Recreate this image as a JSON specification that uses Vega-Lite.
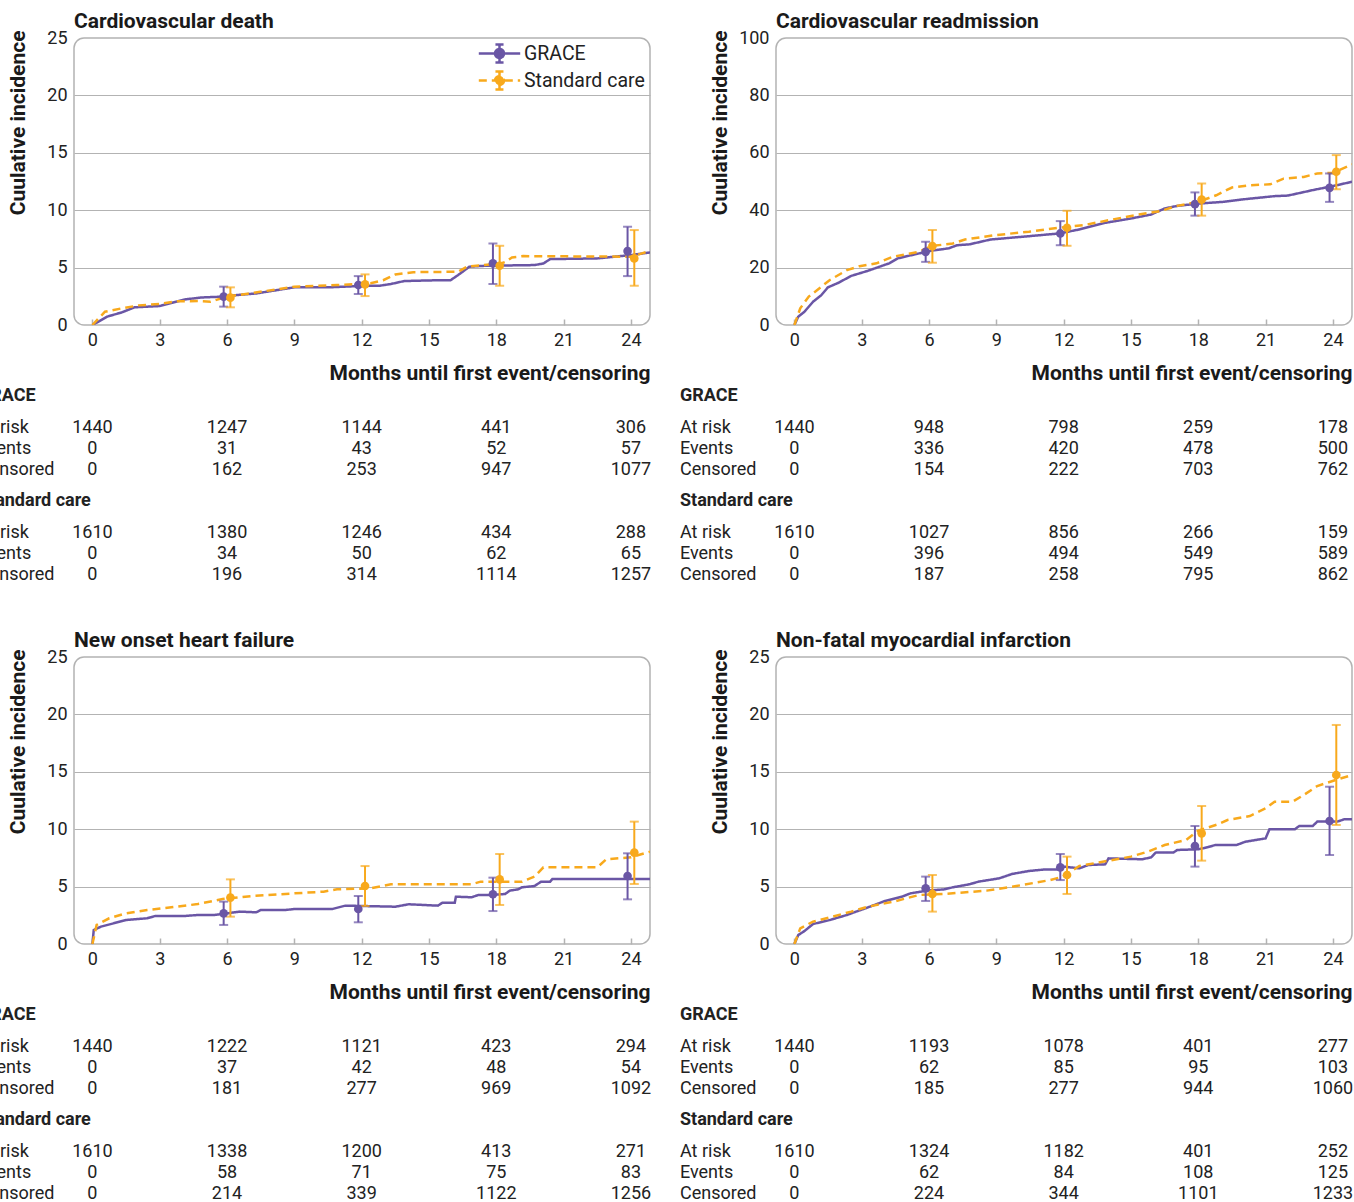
{
"$schema": "https://vega.github.io/schema/vega-lite/v6.json",
"padding": {"left": -23, "top": 10, "right": 0, "bottom": 0},
"background": "white",
"datasets": {
"curves": [
{"p":1,"g":"GRACE","m":0,"v":0},{"p":1,"g":"GRACE","m":0.66,"v":0.73},{"p":1,"g":"GRACE","m":1.31,"v":1.1},{"p":1,"g":"GRACE","m":1.88,"v":1.54},{"p":1,"g":"GRACE","m":3.0,"v":1.65},{"p":1,"g":"GRACE","m":4.13,"v":2.23},{"p":1,"g":"GRACE","m":4.88,"v":2.4},{"p":1,"g":"GRACE","m":5.8,"v":2.47},{"p":1,"g":"GRACE","m":6.4,"v":2.6},{"p":1,"g":"GRACE","m":7.3,"v":2.75},{"p":1,"g":"GRACE","m":8.26,"v":3.05},{"p":1,"g":"GRACE","m":9.0,"v":3.28},{"p":1,"g":"GRACE","m":10.5,"v":3.28},{"p":1,"g":"GRACE","m":12.0,"v":3.4},{"p":1,"g":"GRACE","m":12.8,"v":3.42},{"p":1,"g":"GRACE","m":13.3,"v":3.57},{"p":1,"g":"GRACE","m":13.9,"v":3.83},{"p":1,"g":"GRACE","m":15.4,"v":3.9},{"p":1,"g":"GRACE","m":15.96,"v":3.9},{"p":1,"g":"GRACE","m":16.3,"v":4.35},{"p":1,"g":"GRACE","m":16.8,"v":5.08},{"p":1,"g":"GRACE","m":17.5,"v":5.16},{"p":1,"g":"GRACE","m":19.7,"v":5.22},{"p":1,"g":"GRACE","m":20.1,"v":5.36},{"p":1,"g":"GRACE","m":20.4,"v":5.74},{"p":1,"g":"GRACE","m":22.5,"v":5.8},{"p":1,"g":"GRACE","m":24.0,"v":6.09},{"p":1,"g":"GRACE","m":24.85,"v":6.32},
{"p":1,"g":"Standard care","m":0,"v":0},{"p":1,"g":"Standard care","m":0.56,"v":1.16},{"p":1,"g":"Standard care","m":1.31,"v":1.45},{"p":1,"g":"Standard care","m":2.07,"v":1.71},{"p":1,"g":"Standard care","m":3.0,"v":1.83},{"p":1,"g":"Standard care","m":3.76,"v":2.06},{"p":1,"g":"Standard care","m":4.7,"v":2.09},{"p":1,"g":"Standard care","m":5.26,"v":2.03},{"p":1,"g":"Standard care","m":6.0,"v":2.47},{"p":1,"g":"Standard care","m":7.1,"v":2.78},{"p":1,"g":"Standard care","m":9.0,"v":3.33},{"p":1,"g":"Standard care","m":10.9,"v":3.48},{"p":1,"g":"Standard care","m":12.4,"v":3.63},{"p":1,"g":"Standard care","m":12.96,"v":3.9},{"p":1,"g":"Standard care","m":13.5,"v":4.4},{"p":1,"g":"Standard care","m":14.3,"v":4.6},{"p":1,"g":"Standard care","m":16.3,"v":4.64},{"p":1,"g":"Standard care","m":16.7,"v":5.08},{"p":1,"g":"Standard care","m":18.2,"v":5.36},{"p":1,"g":"Standard care","m":18.4,"v":5.5},{"p":1,"g":"Standard care","m":18.7,"v":5.89},{"p":1,"g":"Standard care","m":19.2,"v":6.0},{"p":1,"g":"Standard care","m":24.0,"v":5.95},{"p":1,"g":"Standard care","m":24.85,"v":6.45},
{"p":2,"g":"GRACE","m":0,"v":0},{"p":2,"g":"GRACE","m":0.17,"v":2.9},{"p":2,"g":"GRACE","m":0.45,"v":4.64},{"p":2,"g":"GRACE","m":0.83,"v":8.1},{"p":2,"g":"GRACE","m":1.2,"v":10.4},{"p":2,"g":"GRACE","m":1.49,"v":13.1},{"p":2,"g":"GRACE","m":1.96,"v":14.7},{"p":2,"g":"GRACE","m":2.53,"v":17.1},{"p":2,"g":"GRACE","m":3.28,"v":18.9},{"p":2,"g":"GRACE","m":4.23,"v":21.5},{"p":2,"g":"GRACE","m":4.6,"v":23.2},{"p":2,"g":"GRACE","m":5.36,"v":24.6},{"p":2,"g":"GRACE","m":6.1,"v":25.9},{"p":2,"g":"GRACE","m":6.87,"v":26.7},{"p":2,"g":"GRACE","m":7.25,"v":27.8},{"p":2,"g":"GRACE","m":7.8,"v":28.1},{"p":2,"g":"GRACE","m":8.75,"v":29.8},{"p":2,"g":"GRACE","m":10.1,"v":30.7},{"p":2,"g":"GRACE","m":11.8,"v":31.9},{"p":2,"g":"GRACE","m":12.7,"v":33.3},{"p":2,"g":"GRACE","m":13.85,"v":35.6},{"p":2,"g":"GRACE","m":15.0,"v":37.1},{"p":2,"g":"GRACE","m":15.9,"v":38.5},{"p":2,"g":"GRACE","m":16.5,"v":40.6},{"p":2,"g":"GRACE","m":17.06,"v":41.5},{"p":2,"g":"GRACE","m":18.0,"v":42.3},{"p":2,"g":"GRACE","m":19.1,"v":42.9},{"p":2,"g":"GRACE","m":19.9,"v":43.7},{"p":2,"g":"GRACE","m":21.4,"v":44.9},{"p":2,"g":"GRACE","m":22.0,"v":45.1},{"p":2,"g":"GRACE","m":23.1,"v":47.0},{"p":2,"g":"GRACE","m":24.0,"v":48.4},{"p":2,"g":"GRACE","m":24.85,"v":49.9},
{"p":2,"g":"Standard care","m":0,"v":0},{"p":2,"g":"Standard care","m":0.26,"v":5.8},{"p":2,"g":"Standard care","m":0.64,"v":9.9},{"p":2,"g":"Standard care","m":1.02,"v":12.2},{"p":2,"g":"Standard care","m":1.58,"v":15.7},{"p":2,"g":"Standard care","m":2.34,"v":19.1},{"p":2,"g":"Standard care","m":2.9,"v":20.5},{"p":2,"g":"Standard care","m":3.66,"v":21.5},{"p":2,"g":"Standard care","m":4.4,"v":23.8},{"p":2,"g":"Standard care","m":5.55,"v":25.5},{"p":2,"g":"Standard care","m":6.1,"v":27.5},{"p":2,"g":"Standard care","m":7.06,"v":28.4},{"p":2,"g":"Standard care","m":7.6,"v":29.8},{"p":2,"g":"Standard care","m":8.94,"v":31.3},{"p":2,"g":"Standard care","m":10.45,"v":32.5},{"p":2,"g":"Standard care","m":11.8,"v":33.9},{"p":2,"g":"Standard care","m":12.9,"v":34.8},{"p":2,"g":"Standard care","m":14.0,"v":36.5},{"p":2,"g":"Standard care","m":15.2,"v":38.3},{"p":2,"g":"Standard care","m":16.3,"v":39.7},{"p":2,"g":"Standard care","m":17.06,"v":41.5},{"p":2,"g":"Standard care","m":18.0,"v":42.9},{"p":2,"g":"Standard care","m":18.8,"v":45.2},{"p":2,"g":"Standard care","m":19.5,"v":47.9},{"p":2,"g":"Standard care","m":20.3,"v":48.7},{"p":2,"g":"Standard care","m":21.2,"v":49.0},{"p":2,"g":"Standard care","m":21.8,"v":51.0},{"p":2,"g":"Standard care","m":22.7,"v":51.6},{"p":2,"g":"Standard care","m":23.3,"v":52.8},{"p":2,"g":"Standard care","m":24.0,"v":53.0},{"p":2,"g":"Standard care","m":24.85,"v":56.0},
{"p":3,"g":"GRACE","m":0,"v":0},{"p":3,"g":"GRACE","m":0.06,"v":1.22},{"p":3,"g":"GRACE","m":0.38,"v":1.51},{"p":3,"g":"GRACE","m":0.94,"v":1.8},{"p":3,"g":"GRACE","m":1.5,"v":2.09},{"p":3,"g":"GRACE","m":2.44,"v":2.24},{"p":3,"g":"GRACE","m":2.8,"v":2.44},{"p":3,"g":"GRACE","m":4.13,"v":2.44},{"p":3,"g":"GRACE","m":4.7,"v":2.53},{"p":3,"g":"GRACE","m":5.45,"v":2.53},{"p":3,"g":"GRACE","m":6.0,"v":2.67},{"p":3,"g":"GRACE","m":6.57,"v":2.82},{"p":3,"g":"GRACE","m":7.3,"v":2.76},{"p":3,"g":"GRACE","m":7.5,"v":2.96},{"p":3,"g":"GRACE","m":8.6,"v":2.96},{"p":3,"g":"GRACE","m":9.0,"v":3.05},{"p":3,"g":"GRACE","m":10.7,"v":3.05},{"p":3,"g":"GRACE","m":11.27,"v":3.34},{"p":3,"g":"GRACE","m":13.5,"v":3.25},{"p":3,"g":"GRACE","m":14.1,"v":3.46},{"p":3,"g":"GRACE","m":15.4,"v":3.34},{"p":3,"g":"GRACE","m":15.6,"v":3.6},{"p":3,"g":"GRACE","m":16.15,"v":3.6},{"p":3,"g":"GRACE","m":16.2,"v":4.12},{"p":3,"g":"GRACE","m":16.9,"v":4.07},{"p":3,"g":"GRACE","m":17.2,"v":4.27},{"p":3,"g":"GRACE","m":17.8,"v":4.27},{"p":3,"g":"GRACE","m":18.4,"v":4.36},{"p":3,"g":"GRACE","m":18.6,"v":4.65},{"p":3,"g":"GRACE","m":18.97,"v":4.76},{"p":3,"g":"GRACE","m":19.15,"v":4.94},{"p":3,"g":"GRACE","m":19.7,"v":5.05},{"p":3,"g":"GRACE","m":20.0,"v":5.43},{"p":3,"g":"GRACE","m":20.4,"v":5.43},{"p":3,"g":"GRACE","m":20.5,"v":5.66},{"p":3,"g":"GRACE","m":24.85,"v":5.66},
{"p":3,"g":"Standard care","m":0,"v":0},{"p":3,"g":"Standard care","m":0.19,"v":1.66},{"p":3,"g":"Standard care","m":0.75,"v":2.24},{"p":3,"g":"Standard care","m":1.5,"v":2.67},{"p":3,"g":"Standard care","m":2.44,"v":2.96},{"p":3,"g":"Standard care","m":3.76,"v":3.25},{"p":3,"g":"Standard care","m":4.7,"v":3.48},{"p":3,"g":"Standard care","m":5.8,"v":3.92},{"p":3,"g":"Standard care","m":7.1,"v":4.18},{"p":3,"g":"Standard care","m":9.0,"v":4.41},{"p":3,"g":"Standard care","m":10.3,"v":4.56},{"p":3,"g":"Standard care","m":10.9,"v":4.76},{"p":3,"g":"Standard care","m":12.4,"v":4.85},{"p":3,"g":"Standard care","m":13.3,"v":5.2},{"p":3,"g":"Standard care","m":16.9,"v":5.2},{"p":3,"g":"Standard care","m":17.3,"v":5.43},{"p":3,"g":"Standard care","m":19.15,"v":5.43},{"p":3,"g":"Standard care","m":19.7,"v":5.87},{"p":3,"g":"Standard care","m":20.1,"v":6.68},{"p":3,"g":"Standard care","m":22.5,"v":6.68},{"p":3,"g":"Standard care","m":22.9,"v":7.38},{"p":3,"g":"Standard care","m":24.0,"v":7.55},{"p":3,"g":"Standard care","m":24.85,"v":8.04},
{"p":4,"g":"GRACE","m":0,"v":0},{"p":4,"g":"GRACE","m":0.17,"v":0.78},{"p":4,"g":"GRACE","m":0.45,"v":1.13},{"p":4,"g":"GRACE","m":0.83,"v":1.74},{"p":4,"g":"GRACE","m":1.58,"v":2.09},{"p":4,"g":"GRACE","m":2.34,"v":2.53},{"p":4,"g":"GRACE","m":3.28,"v":3.19},{"p":4,"g":"GRACE","m":4.04,"v":3.75},{"p":4,"g":"GRACE","m":4.79,"v":4.12},{"p":4,"g":"GRACE","m":5.17,"v":4.41},{"p":4,"g":"GRACE","m":5.92,"v":4.65},{"p":4,"g":"GRACE","m":6.68,"v":4.76},{"p":4,"g":"GRACE","m":7.06,"v":4.94},{"p":4,"g":"GRACE","m":7.8,"v":5.2},{"p":4,"g":"GRACE","m":8.2,"v":5.43},{"p":4,"g":"GRACE","m":9.13,"v":5.72},{"p":4,"g":"GRACE","m":9.7,"v":6.1},{"p":4,"g":"GRACE","m":10.45,"v":6.36},{"p":4,"g":"GRACE","m":11.2,"v":6.5},{"p":4,"g":"GRACE","m":11.8,"v":6.5},{"p":4,"g":"GRACE","m":12.0,"v":6.74},{"p":4,"g":"GRACE","m":12.7,"v":6.59},{"p":4,"g":"GRACE","m":13.1,"v":6.88},{"p":4,"g":"GRACE","m":13.85,"v":6.94},{"p":4,"g":"GRACE","m":14.0,"v":7.46},{"p":4,"g":"GRACE","m":15.5,"v":7.38},{"p":4,"g":"GRACE","m":15.9,"v":7.55},{"p":4,"g":"GRACE","m":16.1,"v":7.96},{"p":4,"g":"GRACE","m":16.9,"v":7.98},{"p":4,"g":"GRACE","m":17.06,"v":8.19},{"p":4,"g":"GRACE","m":18.0,"v":8.25},{"p":4,"g":"GRACE","m":18.4,"v":8.42},{"p":4,"g":"GRACE","m":18.75,"v":8.62},{"p":4,"g":"GRACE","m":19.7,"v":8.62},{"p":4,"g":"GRACE","m":20.1,"v":8.91},{"p":4,"g":"GRACE","m":21.0,"v":9.2},{"p":4,"g":"GRACE","m":21.17,"v":9.99},{"p":4,"g":"GRACE","m":22.3,"v":9.99},{"p":4,"g":"GRACE","m":22.5,"v":10.28},{"p":4,"g":"GRACE","m":23.1,"v":10.28},{"p":4,"g":"GRACE","m":23.3,"v":10.66},{"p":4,"g":"GRACE","m":24.2,"v":10.66},{"p":4,"g":"GRACE","m":24.5,"v":10.86},{"p":4,"g":"GRACE","m":24.85,"v":10.86},
{"p":4,"g":"Standard care","m":0,"v":0},{"p":4,"g":"Standard care","m":0.26,"v":1.36},{"p":4,"g":"Standard care","m":0.83,"v":1.95},{"p":4,"g":"Standard care","m":1.58,"v":2.32},{"p":4,"g":"Standard care","m":2.53,"v":2.82},{"p":4,"g":"Standard care","m":3.28,"v":3.25},{"p":4,"g":"Standard care","m":4.42,"v":3.69},{"p":4,"g":"Standard care","m":5.55,"v":4.27},{"p":4,"g":"Standard care","m":6.68,"v":4.36},{"p":4,"g":"Standard care","m":8.57,"v":4.65},{"p":4,"g":"Standard care","m":9.89,"v":5.05},{"p":4,"g":"Standard care","m":11.4,"v":5.57},{"p":4,"g":"Standard care","m":11.96,"v":5.87},{"p":4,"g":"Standard care","m":12.7,"v":6.79},{"p":4,"g":"Standard care","m":13.5,"v":7.08},{"p":4,"g":"Standard care","m":15.0,"v":7.61},{"p":4,"g":"Standard care","m":15.75,"v":8.04},{"p":4,"g":"Standard care","m":16.5,"v":8.62},{"p":4,"g":"Standard care","m":17.45,"v":9.06},{"p":4,"g":"Standard care","m":18.0,"v":9.87},{"p":4,"g":"Standard care","m":18.9,"v":10.45},{"p":4,"g":"Standard care","m":19.3,"v":10.8},{"p":4,"g":"Standard care","m":20.3,"v":11.15},{"p":4,"g":"Standard care","m":21.0,"v":11.82},{"p":4,"g":"Standard care","m":21.4,"v":12.4},{"p":4,"g":"Standard care","m":22.2,"v":12.4},{"p":4,"g":"Standard care","m":22.7,"v":12.98},{"p":4,"g":"Standard care","m":23.3,"v":13.76},{"p":4,"g":"Standard care","m":24.2,"v":14.34},{"p":4,"g":"Standard care","m":24.85,"v":14.72}
],
"bars": [
{"p":1,"g":"GRACE","m":5.85,"v":2.47,"lo":1.6,"hi":3.34},{"p":1,"g":"GRACE","m":11.85,"v":3.48,"lo":2.7,"hi":4.26},{"p":1,"g":"GRACE","m":17.85,"v":5.37,"lo":3.57,"hi":7.1},{"p":1,"g":"GRACE","m":23.85,"v":6.44,"lo":4.26,"hi":8.56},
{"p":1,"g":"Standard care","m":6.15,"v":2.38,"lo":1.54,"hi":3.28},{"p":1,"g":"Standard care","m":12.15,"v":3.54,"lo":2.52,"hi":4.41},{"p":1,"g":"Standard care","m":18.15,"v":5.16,"lo":3.42,"hi":6.9},{"p":1,"g":"Standard care","m":24.15,"v":5.8,"lo":3.42,"hi":8.27},
{"p":2,"g":"GRACE","m":5.85,"v":25.5,"lo":22.0,"hi":29.0},{"p":2,"g":"GRACE","m":11.85,"v":31.9,"lo":27.8,"hi":36.2},{"p":2,"g":"GRACE","m":17.85,"v":42.1,"lo":38.1,"hi":46.2},{"p":2,"g":"GRACE","m":23.85,"v":47.8,"lo":42.9,"hi":52.8},
{"p":2,"g":"Standard care","m":6.15,"v":27.5,"lo":21.7,"hi":33.1},{"p":2,"g":"Standard care","m":12.15,"v":33.9,"lo":27.6,"hi":39.8},{"p":2,"g":"Standard care","m":18.15,"v":43.7,"lo":38.1,"hi":49.3},{"p":2,"g":"Standard care","m":24.15,"v":53.4,"lo":47.3,"hi":59.2},
{"p":3,"g":"GRACE","m":5.85,"v":2.67,"lo":1.66,"hi":3.69},{"p":3,"g":"GRACE","m":11.85,"v":3.05,"lo":1.89,"hi":4.18},{"p":3,"g":"GRACE","m":17.85,"v":4.33,"lo":2.87,"hi":5.78},{"p":3,"g":"GRACE","m":23.85,"v":5.92,"lo":3.89,"hi":7.9},
{"p":3,"g":"Standard care","m":6.15,"v":4.04,"lo":2.38,"hi":5.63},{"p":3,"g":"Standard care","m":12.15,"v":5.05,"lo":3.31,"hi":6.79},{"p":3,"g":"Standard care","m":18.15,"v":5.63,"lo":3.4,"hi":7.84},{"p":3,"g":"Standard care","m":24.15,"v":7.96,"lo":5.23,"hi":10.66},
{"p":4,"g":"GRACE","m":5.85,"v":4.85,"lo":3.75,"hi":5.87},{"p":4,"g":"GRACE","m":11.85,"v":6.68,"lo":5.57,"hi":7.84},{"p":4,"g":"GRACE","m":17.85,"v":8.54,"lo":6.74,"hi":10.28},{"p":4,"g":"GRACE","m":23.85,"v":10.71,"lo":7.75,"hi":13.7},
{"p":4,"g":"Standard care","m":6.15,"v":4.36,"lo":2.82,"hi":6.01},{"p":4,"g":"Standard care","m":12.15,"v":6.01,"lo":4.36,"hi":7.61},{"p":4,"g":"Standard care","m":18.15,"v":9.64,"lo":7.26,"hi":12.02},{"p":4,"g":"Standard care","m":24.15,"v":14.72,"lo":10.37,"hi":19.08}
],
"rowlab": [
{"r":"GH","t":"GRACE","h":1},{"r":"G1","t":"At risk","h":0},{"r":"G2","t":"Events","h":0},{"r":"G3","t":"Censored","h":0},
{"r":"SH","t":"Standard care","h":1},{"r":"S1","t":"At risk","h":0},{"r":"S2","t":"Events","h":0},{"r":"S3","t":"Censored","h":0}
],
"risk": [
{"p":1,"r":"G1","m":0,"n":"1440"},{"p":1,"r":"G1","m":6,"n":"1247"},{"p":1,"r":"G1","m":12,"n":"1144"},{"p":1,"r":"G1","m":18,"n":"441"},{"p":1,"r":"G1","m":24,"n":"306"},
{"p":1,"r":"G2","m":0,"n":"0"},{"p":1,"r":"G2","m":6,"n":"31"},{"p":1,"r":"G2","m":12,"n":"43"},{"p":1,"r":"G2","m":18,"n":"52"},{"p":1,"r":"G2","m":24,"n":"57"},
{"p":1,"r":"G3","m":0,"n":"0"},{"p":1,"r":"G3","m":6,"n":"162"},{"p":1,"r":"G3","m":12,"n":"253"},{"p":1,"r":"G3","m":18,"n":"947"},{"p":1,"r":"G3","m":24,"n":"1077"},
{"p":1,"r":"S1","m":0,"n":"1610"},{"p":1,"r":"S1","m":6,"n":"1380"},{"p":1,"r":"S1","m":12,"n":"1246"},{"p":1,"r":"S1","m":18,"n":"434"},{"p":1,"r":"S1","m":24,"n":"288"},
{"p":1,"r":"S2","m":0,"n":"0"},{"p":1,"r":"S2","m":6,"n":"34"},{"p":1,"r":"S2","m":12,"n":"50"},{"p":1,"r":"S2","m":18,"n":"62"},{"p":1,"r":"S2","m":24,"n":"65"},
{"p":1,"r":"S3","m":0,"n":"0"},{"p":1,"r":"S3","m":6,"n":"196"},{"p":1,"r":"S3","m":12,"n":"314"},{"p":1,"r":"S3","m":18,"n":"1114"},{"p":1,"r":"S3","m":24,"n":"1257"},
{"p":2,"r":"G1","m":0,"n":"1440"},{"p":2,"r":"G1","m":6,"n":"948"},{"p":2,"r":"G1","m":12,"n":"798"},{"p":2,"r":"G1","m":18,"n":"259"},{"p":2,"r":"G1","m":24,"n":"178"},
{"p":2,"r":"G2","m":0,"n":"0"},{"p":2,"r":"G2","m":6,"n":"336"},{"p":2,"r":"G2","m":12,"n":"420"},{"p":2,"r":"G2","m":18,"n":"478"},{"p":2,"r":"G2","m":24,"n":"500"},
{"p":2,"r":"G3","m":0,"n":"0"},{"p":2,"r":"G3","m":6,"n":"154"},{"p":2,"r":"G3","m":12,"n":"222"},{"p":2,"r":"G3","m":18,"n":"703"},{"p":2,"r":"G3","m":24,"n":"762"},
{"p":2,"r":"S1","m":0,"n":"1610"},{"p":2,"r":"S1","m":6,"n":"1027"},{"p":2,"r":"S1","m":12,"n":"856"},{"p":2,"r":"S1","m":18,"n":"266"},{"p":2,"r":"S1","m":24,"n":"159"},
{"p":2,"r":"S2","m":0,"n":"0"},{"p":2,"r":"S2","m":6,"n":"396"},{"p":2,"r":"S2","m":12,"n":"494"},{"p":2,"r":"S2","m":18,"n":"549"},{"p":2,"r":"S2","m":24,"n":"589"},
{"p":2,"r":"S3","m":0,"n":"0"},{"p":2,"r":"S3","m":6,"n":"187"},{"p":2,"r":"S3","m":12,"n":"258"},{"p":2,"r":"S3","m":18,"n":"795"},{"p":2,"r":"S3","m":24,"n":"862"},
{"p":3,"r":"G1","m":0,"n":"1440"},{"p":3,"r":"G1","m":6,"n":"1222"},{"p":3,"r":"G1","m":12,"n":"1121"},{"p":3,"r":"G1","m":18,"n":"423"},{"p":3,"r":"G1","m":24,"n":"294"},
{"p":3,"r":"G2","m":0,"n":"0"},{"p":3,"r":"G2","m":6,"n":"37"},{"p":3,"r":"G2","m":12,"n":"42"},{"p":3,"r":"G2","m":18,"n":"48"},{"p":3,"r":"G2","m":24,"n":"54"},
{"p":3,"r":"G3","m":0,"n":"0"},{"p":3,"r":"G3","m":6,"n":"181"},{"p":3,"r":"G3","m":12,"n":"277"},{"p":3,"r":"G3","m":18,"n":"969"},{"p":3,"r":"G3","m":24,"n":"1092"},
{"p":3,"r":"S1","m":0,"n":"1610"},{"p":3,"r":"S1","m":6,"n":"1338"},{"p":3,"r":"S1","m":12,"n":"1200"},{"p":3,"r":"S1","m":18,"n":"413"},{"p":3,"r":"S1","m":24,"n":"271"},
{"p":3,"r":"S2","m":0,"n":"0"},{"p":3,"r":"S2","m":6,"n":"58"},{"p":3,"r":"S2","m":12,"n":"71"},{"p":3,"r":"S2","m":18,"n":"75"},{"p":3,"r":"S2","m":24,"n":"83"},
{"p":3,"r":"S3","m":0,"n":"0"},{"p":3,"r":"S3","m":6,"n":"214"},{"p":3,"r":"S3","m":12,"n":"339"},{"p":3,"r":"S3","m":18,"n":"1122"},{"p":3,"r":"S3","m":24,"n":"1256"},
{"p":4,"r":"G1","m":0,"n":"1440"},{"p":4,"r":"G1","m":6,"n":"1193"},{"p":4,"r":"G1","m":12,"n":"1078"},{"p":4,"r":"G1","m":18,"n":"401"},{"p":4,"r":"G1","m":24,"n":"277"},
{"p":4,"r":"G2","m":0,"n":"0"},{"p":4,"r":"G2","m":6,"n":"62"},{"p":4,"r":"G2","m":12,"n":"85"},{"p":4,"r":"G2","m":18,"n":"95"},{"p":4,"r":"G2","m":24,"n":"103"},
{"p":4,"r":"G3","m":0,"n":"0"},{"p":4,"r":"G3","m":6,"n":"185"},{"p":4,"r":"G3","m":12,"n":"277"},{"p":4,"r":"G3","m":18,"n":"944"},{"p":4,"r":"G3","m":24,"n":"1060"},
{"p":4,"r":"S1","m":0,"n":"1610"},{"p":4,"r":"S1","m":6,"n":"1324"},{"p":4,"r":"S1","m":12,"n":"1182"},{"p":4,"r":"S1","m":18,"n":"401"},{"p":4,"r":"S1","m":24,"n":"252"},
{"p":4,"r":"S2","m":0,"n":"0"},{"p":4,"r":"S2","m":6,"n":"62"},{"p":4,"r":"S2","m":12,"n":"84"},{"p":4,"r":"S2","m":18,"n":"108"},{"p":4,"r":"S2","m":24,"n":"125"},
{"p":4,"r":"S3","m":0,"n":"0"},{"p":4,"r":"S3","m":6,"n":"224"},{"p":4,"r":"S3","m":12,"n":"344"},{"p":4,"r":"S3","m":18,"n":"1101"},{"p":4,"r":"S3","m":24,"n":"1233"}
]
},
"columns": 2,
"spacing": {"row": 45, "column": 27},
"resolve": {"scale": {"color": "independent", "strokeDash": "independent"}, "legend": {"color": "independent", "strokeDash": "independent"}},
"concat": [
{"spacing": 3,
 "resolve": {"scale": {"color": "independent", "strokeDash": "independent"}, "legend": {"color": "independent", "strokeDash": "independent"}},
 "vconcat": [
 {"width": 576, "height": 287,
  "title": {"text": "Cardiovascular death"},
  "view": {"stroke": "#b3b3b3", "strokeWidth": 1.5, "cornerRadius": 10},
  "layer": [
   {"data": {"name": "curves"}, "transform": [{"filter": "datum.p === 1"}],
    "mark": {"type": "line", "strokeWidth": 2.5, "clip": true},
    "encoding": {
     "x": {"field": "m", "type": "quantitative", "scale": {"domain": [-0.82, 24.85], "nice": false, "zero": false}, "axis": {"values": [0,3,6,9,12,15,18,21,24], "title": "Months until first event/censoring"}},
     "y": {"field": "v", "type": "quantitative", "scale": {"domain": [0, 25], "nice": false}, "axis": {"values": [0,5,10,15,20,25], "title": "Cuulative incidence", "grid": true, "gridColor": {"condition": {"test": "datum.value === 0 || datum.value === 25", "value": "transparent"}, "value": "#b3b3b3"}}},
     "color": {"field": "g", "type": "nominal", "scale": {"domain": ["GRACE", "Standard care"], "range": ["#6a56a5", "#f8a91c"]},
       "legend": {"title": null, "orient": "top-right", "offset": 5, "labelFontSize": 19.5, "labelColor": "#222222", "labelOffset": 14, "rowPadding": -2, "symbolSize": 324, "symbolStrokeWidth": 2.5, "symbolType": "M-2.3,0H2.3M0,-1V1M-0.45,-1H0.45M-0.45,1H0.45M0.5,0A0.5,0.5,0,1,1,-0.5,0A0.5,0.5,0,1,1,0.5,0Z", "encode": {"symbols": {"update": {"fill": {"signal": "datum.value === 'GRACE' ? '#6a56a5' : '#f8a91c'"}}}}}},
     "strokeDash": {"field": "g", "type": "nominal", "scale": {"domain": ["GRACE", "Standard care"], "range": [[1, 0], [8, 5]]},
       "legend": {"title": null, "orient": "top-right", "offset": 5, "labelFontSize": 19.5, "labelColor": "#222222", "labelOffset": 14, "rowPadding": -2, "symbolSize": 324, "symbolStrokeWidth": 2.5, "symbolType": "M-2.3,0H2.3M0,-1V1M-0.45,-1H0.45M-0.45,1H0.45M0.5,0A0.5,0.5,0,1,1,-0.5,0A0.5,0.5,0,1,1,0.5,0Z", "encode": {"symbols": {"update": {"fill": {"signal": "datum.value === 'GRACE' ? '#6a56a5' : '#f8a91c'"}}}}}}
    }},
   {"data": {"name": "bars"}, "transform": [{"filter": "datum.p === 1"}],
    "mark": {"type": "rule", "strokeWidth": 2},
    "encoding": {"x": {"field": "m", "type": "quantitative"}, "y": {"field": "lo", "type": "quantitative"}, "y2": {"field": "hi"}, "color": {"field": "g", "type": "nominal"}}},
   {"data": {"name": "bars"}, "transform": [{"filter": "datum.p === 1"}],
    "mark": {"type": "tick", "orient": "horizontal", "size": 9, "thickness": 2},
    "encoding": {"x": {"field": "m", "type": "quantitative"}, "y": {"field": "lo", "type": "quantitative"}, "color": {"field": "g", "type": "nominal"}}},
   {"data": {"name": "bars"}, "transform": [{"filter": "datum.p === 1"}],
    "mark": {"type": "tick", "orient": "horizontal", "size": 9, "thickness": 2},
    "encoding": {"x": {"field": "m", "type": "quantitative"}, "y": {"field": "hi", "type": "quantitative"}, "color": {"field": "g", "type": "nominal"}}},
   {"data": {"name": "bars"}, "transform": [{"filter": "datum.p === 1"}],
    "mark": {"type": "point", "filled": true, "size": 75, "opacity": 1},
    "encoding": {"x": {"field": "m", "type": "quantitative"}, "y": {"field": "v", "type": "quantitative"}, "color": {"field": "g", "type": "nominal"}}}
  ]},
 {"width": 576, "height": 178.5,
  "layer": [
   {"data": {"name": "risk"}, "transform": [{"filter": "datum.p === 1"}],
    "mark": {"type": "text", "align": "center", "baseline": "middle"},
    "encoding": {
     "x": {"field": "m", "type": "quantitative", "scale": {"domain": [-0.82, 24.85], "nice": false, "zero": false}, "axis": null},
     "y": {"field": "r", "type": "nominal", "scale": {"type": "point", "padding": 0, "domain": ["GH","a1","a2","G1","a4","G2","a6","G3","a8","a9","SH","a11","a12","S1","a14","S2","a16","S3"]}, "axis": null},
     "text": {"field": "n", "type": "nominal"}}},
   {"data": {"name": "rowlab"}, "transform": [{"filter": "datum.h === 0"}],
    "mark": {"type": "text", "align": "left", "baseline": "middle"},
    "encoding": {"x": {"datum": -5.1}, "y": {"field": "r", "type": "nominal"}, "text": {"field": "t", "type": "nominal"}}},
   {"data": {"name": "rowlab"}, "transform": [{"filter": "datum.h === 1"}],
    "mark": {"type": "text", "align": "left", "baseline": "middle", "fontWeight": "bold"},
    "encoding": {"x": {"datum": -5.1}, "y": {"field": "r", "type": "nominal"}, "text": {"field": "t", "type": "nominal"}}}
  ]}
 ]},
{"spacing": 3,
 "resolve": {"scale": {"color": "independent", "strokeDash": "independent"}, "legend": {"color": "independent", "strokeDash": "independent"}},
 "vconcat": [
 {"width": 576, "height": 287,
  "title": {"text": "Cardiovascular readmission"},
  "view": {"stroke": "#b3b3b3", "strokeWidth": 1.5, "cornerRadius": 10},
  "layer": [
   {"data": {"name": "curves"}, "transform": [{"filter": "datum.p === 2"}],
    "mark": {"type": "line", "strokeWidth": 2.5, "clip": true},
    "encoding": {
     "x": {"field": "m", "type": "quantitative", "scale": {"domain": [-0.82, 24.85], "nice": false, "zero": false}, "axis": {"values": [0,3,6,9,12,15,18,21,24], "title": "Months until first event/censoring"}},
     "y": {"field": "v", "type": "quantitative", "scale": {"domain": [0, 100], "nice": false}, "axis": {"values": [0,20,40,60,80,100], "title": "Cuulative incidence", "grid": true, "gridColor": {"condition": {"test": "datum.value === 0 || datum.value === 100", "value": "transparent"}, "value": "#b3b3b3"}}},
     "color": {"field": "g", "type": "nominal", "scale": {"domain": ["GRACE", "Standard care"], "range": ["#6a56a5", "#f8a91c"]}, "legend": null},
     "strokeDash": {"field": "g", "type": "nominal", "scale": {"domain": ["GRACE", "Standard care"], "range": [[1, 0], [8, 5]]}, "legend": null}
    }},
   {"data": {"name": "bars"}, "transform": [{"filter": "datum.p === 2"}],
    "mark": {"type": "rule", "strokeWidth": 2},
    "encoding": {"x": {"field": "m", "type": "quantitative"}, "y": {"field": "lo", "type": "quantitative"}, "y2": {"field": "hi"}, "color": {"field": "g", "type": "nominal", "legend": null}}},
   {"data": {"name": "bars"}, "transform": [{"filter": "datum.p === 2"}],
    "mark": {"type": "tick", "orient": "horizontal", "size": 9, "thickness": 2},
    "encoding": {"x": {"field": "m", "type": "quantitative"}, "y": {"field": "lo", "type": "quantitative"}, "color": {"field": "g", "type": "nominal", "legend": null}}},
   {"data": {"name": "bars"}, "transform": [{"filter": "datum.p === 2"}],
    "mark": {"type": "tick", "orient": "horizontal", "size": 9, "thickness": 2},
    "encoding": {"x": {"field": "m", "type": "quantitative"}, "y": {"field": "hi", "type": "quantitative"}, "color": {"field": "g", "type": "nominal", "legend": null}}},
   {"data": {"name": "bars"}, "transform": [{"filter": "datum.p === 2"}],
    "mark": {"type": "point", "filled": true, "size": 75, "opacity": 1},
    "encoding": {"x": {"field": "m", "type": "quantitative"}, "y": {"field": "v", "type": "quantitative"}, "color": {"field": "g", "type": "nominal", "legend": null}}}
  ]},
 {"width": 576, "height": 178.5,
  "layer": [
   {"data": {"name": "risk"}, "transform": [{"filter": "datum.p === 2"}],
    "mark": {"type": "text", "align": "center", "baseline": "middle"},
    "encoding": {
     "x": {"field": "m", "type": "quantitative", "scale": {"domain": [-0.82, 24.85], "nice": false, "zero": false}, "axis": null},
     "y": {"field": "r", "type": "nominal", "scale": {"type": "point", "padding": 0, "domain": ["GH","a1","a2","G1","a4","G2","a6","G3","a8","a9","SH","a11","a12","S1","a14","S2","a16","S3"]}, "axis": null},
     "text": {"field": "n", "type": "nominal"}}},
   {"data": {"name": "rowlab"}, "transform": [{"filter": "datum.h === 0"}],
    "mark": {"type": "text", "align": "left", "baseline": "middle"},
    "encoding": {"x": {"datum": -5.1}, "y": {"field": "r", "type": "nominal"}, "text": {"field": "t", "type": "nominal"}}},
   {"data": {"name": "rowlab"}, "transform": [{"filter": "datum.h === 1"}],
    "mark": {"type": "text", "align": "left", "baseline": "middle", "fontWeight": "bold"},
    "encoding": {"x": {"datum": -5.1}, "y": {"field": "r", "type": "nominal"}, "text": {"field": "t", "type": "nominal"}}}
  ]}
 ]},
{"spacing": 3,
 "resolve": {"scale": {"color": "independent", "strokeDash": "independent"}, "legend": {"color": "independent", "strokeDash": "independent"}},
 "vconcat": [
 {"width": 576, "height": 287,
  "title": {"text": "New onset heart failure"},
  "view": {"stroke": "#b3b3b3", "strokeWidth": 1.5, "cornerRadius": 10},
  "layer": [
   {"data": {"name": "curves"}, "transform": [{"filter": "datum.p === 3"}],
    "mark": {"type": "line", "strokeWidth": 2.5, "clip": true},
    "encoding": {
     "x": {"field": "m", "type": "quantitative", "scale": {"domain": [-0.82, 24.85], "nice": false, "zero": false}, "axis": {"values": [0,3,6,9,12,15,18,21,24], "title": "Months until first event/censoring"}},
     "y": {"field": "v", "type": "quantitative", "scale": {"domain": [0, 25], "nice": false}, "axis": {"values": [0,5,10,15,20,25], "title": "Cuulative incidence", "grid": true, "gridColor": {"condition": {"test": "datum.value === 0 || datum.value === 25", "value": "transparent"}, "value": "#b3b3b3"}}},
     "color": {"field": "g", "type": "nominal", "scale": {"domain": ["GRACE", "Standard care"], "range": ["#6a56a5", "#f8a91c"]}, "legend": null},
     "strokeDash": {"field": "g", "type": "nominal", "scale": {"domain": ["GRACE", "Standard care"], "range": [[1, 0], [8, 5]]}, "legend": null}
    }},
   {"data": {"name": "bars"}, "transform": [{"filter": "datum.p === 3"}],
    "mark": {"type": "rule", "strokeWidth": 2},
    "encoding": {"x": {"field": "m", "type": "quantitative"}, "y": {"field": "lo", "type": "quantitative"}, "y2": {"field": "hi"}, "color": {"field": "g", "type": "nominal", "legend": null}}},
   {"data": {"name": "bars"}, "transform": [{"filter": "datum.p === 3"}],
    "mark": {"type": "tick", "orient": "horizontal", "size": 9, "thickness": 2},
    "encoding": {"x": {"field": "m", "type": "quantitative"}, "y": {"field": "lo", "type": "quantitative"}, "color": {"field": "g", "type": "nominal", "legend": null}}},
   {"data": {"name": "bars"}, "transform": [{"filter": "datum.p === 3"}],
    "mark": {"type": "tick", "orient": "horizontal", "size": 9, "thickness": 2},
    "encoding": {"x": {"field": "m", "type": "quantitative"}, "y": {"field": "hi", "type": "quantitative"}, "color": {"field": "g", "type": "nominal", "legend": null}}},
   {"data": {"name": "bars"}, "transform": [{"filter": "datum.p === 3"}],
    "mark": {"type": "point", "filled": true, "size": 75, "opacity": 1},
    "encoding": {"x": {"field": "m", "type": "quantitative"}, "y": {"field": "v", "type": "quantitative"}, "color": {"field": "g", "type": "nominal", "legend": null}}}
  ]},
 {"width": 576, "height": 178.5,
  "layer": [
   {"data": {"name": "risk"}, "transform": [{"filter": "datum.p === 3"}],
    "mark": {"type": "text", "align": "center", "baseline": "middle"},
    "encoding": {
     "x": {"field": "m", "type": "quantitative", "scale": {"domain": [-0.82, 24.85], "nice": false, "zero": false}, "axis": null},
     "y": {"field": "r", "type": "nominal", "scale": {"type": "point", "padding": 0, "domain": ["GH","a1","a2","G1","a4","G2","a6","G3","a8","a9","SH","a11","a12","S1","a14","S2","a16","S3"]}, "axis": null},
     "text": {"field": "n", "type": "nominal"}}},
   {"data": {"name": "rowlab"}, "transform": [{"filter": "datum.h === 0"}],
    "mark": {"type": "text", "align": "left", "baseline": "middle"},
    "encoding": {"x": {"datum": -5.1}, "y": {"field": "r", "type": "nominal"}, "text": {"field": "t", "type": "nominal"}}},
   {"data": {"name": "rowlab"}, "transform": [{"filter": "datum.h === 1"}],
    "mark": {"type": "text", "align": "left", "baseline": "middle", "fontWeight": "bold"},
    "encoding": {"x": {"datum": -5.1}, "y": {"field": "r", "type": "nominal"}, "text": {"field": "t", "type": "nominal"}}}
  ]}
 ]},
{"spacing": 3,
 "resolve": {"scale": {"color": "independent", "strokeDash": "independent"}, "legend": {"color": "independent", "strokeDash": "independent"}},
 "vconcat": [
 {"width": 576, "height": 287,
  "title": {"text": "Non-fatal myocardial infarction"},
  "view": {"stroke": "#b3b3b3", "strokeWidth": 1.5, "cornerRadius": 10},
  "layer": [
   {"data": {"name": "curves"}, "transform": [{"filter": "datum.p === 4"}],
    "mark": {"type": "line", "strokeWidth": 2.5, "clip": true},
    "encoding": {
     "x": {"field": "m", "type": "quantitative", "scale": {"domain": [-0.82, 24.85], "nice": false, "zero": false}, "axis": {"values": [0,3,6,9,12,15,18,21,24], "title": "Months until first event/censoring"}},
     "y": {"field": "v", "type": "quantitative", "scale": {"domain": [0, 25], "nice": false}, "axis": {"values": [0,5,10,15,20,25], "title": "Cuulative incidence", "grid": true, "gridColor": {"condition": {"test": "datum.value === 0 || datum.value === 25", "value": "transparent"}, "value": "#b3b3b3"}}},
     "color": {"field": "g", "type": "nominal", "scale": {"domain": ["GRACE", "Standard care"], "range": ["#6a56a5", "#f8a91c"]}, "legend": null},
     "strokeDash": {"field": "g", "type": "nominal", "scale": {"domain": ["GRACE", "Standard care"], "range": [[1, 0], [8, 5]]}, "legend": null}
    }},
   {"data": {"name": "bars"}, "transform": [{"filter": "datum.p === 4"}],
    "mark": {"type": "rule", "strokeWidth": 2},
    "encoding": {"x": {"field": "m", "type": "quantitative"}, "y": {"field": "lo", "type": "quantitative"}, "y2": {"field": "hi"}, "color": {"field": "g", "type": "nominal", "legend": null}}},
   {"data": {"name": "bars"}, "transform": [{"filter": "datum.p === 4"}],
    "mark": {"type": "tick", "orient": "horizontal", "size": 9, "thickness": 2},
    "encoding": {"x": {"field": "m", "type": "quantitative"}, "y": {"field": "lo", "type": "quantitative"}, "color": {"field": "g", "type": "nominal", "legend": null}}},
   {"data": {"name": "bars"}, "transform": [{"filter": "datum.p === 4"}],
    "mark": {"type": "tick", "orient": "horizontal", "size": 9, "thickness": 2},
    "encoding": {"x": {"field": "m", "type": "quantitative"}, "y": {"field": "hi", "type": "quantitative"}, "color": {"field": "g", "type": "nominal", "legend": null}}},
   {"data": {"name": "bars"}, "transform": [{"filter": "datum.p === 4"}],
    "mark": {"type": "point", "filled": true, "size": 75, "opacity": 1},
    "encoding": {"x": {"field": "m", "type": "quantitative"}, "y": {"field": "v", "type": "quantitative"}, "color": {"field": "g", "type": "nominal", "legend": null}}}
  ]},
 {"width": 576, "height": 178.5,
  "layer": [
   {"data": {"name": "risk"}, "transform": [{"filter": "datum.p === 4"}],
    "mark": {"type": "text", "align": "center", "baseline": "middle"},
    "encoding": {
     "x": {"field": "m", "type": "quantitative", "scale": {"domain": [-0.82, 24.85], "nice": false, "zero": false}, "axis": null},
     "y": {"field": "r", "type": "nominal", "scale": {"type": "point", "padding": 0, "domain": ["GH","a1","a2","G1","a4","G2","a6","G3","a8","a9","SH","a11","a12","S1","a14","S2","a16","S3"]}, "axis": null},
     "text": {"field": "n", "type": "nominal"}}},
   {"data": {"name": "rowlab"}, "transform": [{"filter": "datum.h === 0"}],
    "mark": {"type": "text", "align": "left", "baseline": "middle"},
    "encoding": {"x": {"datum": -5.1}, "y": {"field": "r", "type": "nominal"}, "text": {"field": "t", "type": "nominal"}}},
   {"data": {"name": "rowlab"}, "transform": [{"filter": "datum.h === 1"}],
    "mark": {"type": "text", "align": "left", "baseline": "middle", "fontWeight": "bold"},
    "encoding": {"x": {"datum": -5.1}, "y": {"field": "r", "type": "nominal"}, "text": {"field": "t", "type": "nominal"}}}
  ]}
 ]}
],
"config": {
 "font": "Roboto",
 "view": {"stroke": null},
 "axis": {"labelFontSize": 18, "labelColor": "#222222", "titleFontSize": 21, "titleFontWeight": "bold", "titleColor": "#1a1a1a", "domain": false, "labelFlush": false, "labelFont": "Roboto", "titleFont": "Roboto"},
 "axisX": {"grid": false, "tickSize": -6, "tickColor": "#b3b3b3", "tickWidth": 1.5, "labelPadding": 12, "titleAnchor": "end", "titlePadding": 13},
 "axisY": {"ticks": false, "labelPadding": 7, "gridWidth": 1, "titleX": -56, "titleY": -8, "titleAlign": "right", "titleBaseline": "middle", "titleAngle": 270},
 "title": {"anchor": "start", "frame": "group", "fontSize": 21, "fontWeight": "bold", "color": "#1a1a1a", "baseline": "alphabetic", "offset": -3, "font": "Roboto"},
 "text": {"font": "Roboto", "fontSize": 18, "color": "#222222"}
}
}
